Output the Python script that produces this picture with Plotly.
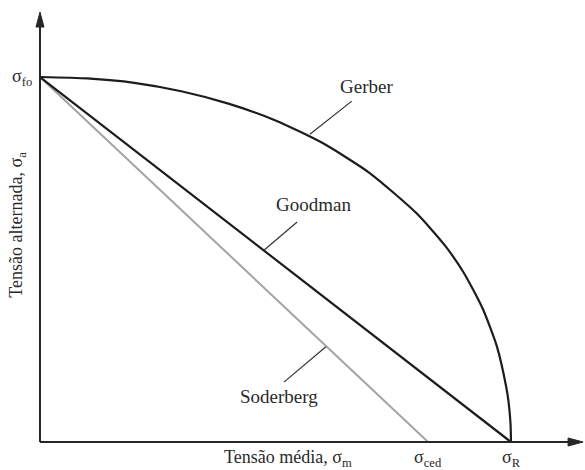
import plotly.graph_objects as go

# Mean stress axis, normalised so that the ultimate strength sigma_R = 1
# and the fatigue limit sigma_fo = 1 on the alternating stress axis.
SIGMA_R = 1.0
SIGMA_FO = 1.0
SIGMA_CED = 0.824

# Gerber curve (mean stress, alternating stress)
gerber_sm = [0.0, 0.1, 0.2, 0.3, 0.4, 0.5, 0.6, 0.7, 0.8, 0.86, 0.9, 0.94, 0.97, 0.99, 0.995, 0.999, 1.0]
gerber_sa = [1.0, 0.996, 0.984, 0.961, 0.927, 0.881, 0.819, 0.737, 0.626, 0.538, 0.463, 0.365, 0.262, 0.150, 0.108, 0.050, 0.0]

# Goodman and Soderberg straight lines
goodman_sm = [0.0, SIGMA_R]
goodman_sa = [SIGMA_FO, 0.0]
soderberg_sm = [0.0, SIGMA_CED]
soderberg_sa = [SIGMA_FO, 0.0]

FONT = "Liberation Serif"
TXT = "#2a2a2a"
AX = "#262626"

X_RANGE = [-0.0849, 1.1571]
Y_RANGE = [-0.0767, 1.2110]
X_END = 1.153
Y_END = 1.178

fig = go.Figure()

fig.add_trace(go.Scatter(x=soderberg_sm, y=soderberg_sa, mode="lines",
                         line=dict(color="#a3a3a3", width=2), hoverinfo="skip"))
fig.add_trace(go.Scatter(x=goodman_sm, y=goodman_sa, mode="lines",
                         line=dict(color="#1c1c1c", width=2.2), hoverinfo="skip"))
fig.add_trace(go.Scatter(x=gerber_sm, y=gerber_sa, mode="lines",
                         line=dict(color="#1c1c1c", width=2.2, shape="spline", smoothing=0.6),
                         hoverinfo="skip"))

shapes = []
# axis lines
shapes.append(dict(type="line", x0=0, y0=0, x1=X_END - 0.02, y1=0,
                   line=dict(color=AX, width=2)))
shapes.append(dict(type="line", x0=0, y0=0, x1=0, y1=Y_END - 0.03,
                   line=dict(color=AX, width=2)))
# arrow heads (pixel-sized, anchored at the axis ends)
shapes.append(dict(type="path", xsizemode="pixel", ysizemode="pixel",
                   xanchor=X_END, yanchor=0,
                   path="M 0,0 L -15,4 L -15,-4 Z",
                   fillcolor=AX, line=dict(color=AX, width=1)))
shapes.append(dict(type="path", xsizemode="pixel", ysizemode="pixel",
                   xanchor=0, yanchor=Y_END,
                   path="M 0,0 L -4,-15 L 4,-15 Z",
                   fillcolor=AX, line=dict(color=AX, width=1)))
# leader lines to the curve labels
for (x0, y0, x1, y1) in [(0.573, 0.843, 0.662, 0.934),
                         (0.476, 0.526, 0.546, 0.603),
                         (0.607, 0.261, 0.518, 0.164)]:
    shapes.append(dict(type="line", x0=x0, y0=y0, x1=x1, y1=y1,
                       line=dict(color="#333333", width=1.2)))

ann = []
def label(x, y, text, xanchor="center", yanchor="middle", size=19, angle=0):
    ann.append(dict(x=x, y=y, text=text, showarrow=False, xanchor=xanchor,
                    yanchor=yanchor, textangle=angle,
                    font=dict(family=FONT, size=size, color=TXT)))

label(0.694, 0.975, "Gerber")
label(0.580, 0.651, "Goodman")
label(0.507, 0.125, "Soderberg")
label(-0.012, 1.0, "σ<sub>fo</sub>", xanchor="right", size=18)
label(SIGMA_CED, -0.046, "σ<sub>ced</sub>", size=18)
label(SIGMA_R, -0.046, "σ<sub>R</sub>", size=18)
label(0.527, -0.046, "Tensão média, σ<sub>m</sub>", size=18)
label(-0.047, 0.595, "Tensão alternada, σ<sub>a</sub>", size=18, angle=-90)

fig.update_layout(
    width=585, height=470,
    margin=dict(l=0, r=0, t=0, b=0, pad=0),
    paper_bgcolor="white", plot_bgcolor="white",
    showlegend=False,
    xaxis=dict(range=X_RANGE, visible=False, fixedrange=True),
    yaxis=dict(range=Y_RANGE, visible=False, fixedrange=True),
    shapes=shapes, annotations=ann,
)

fig.write_html("out.html")
